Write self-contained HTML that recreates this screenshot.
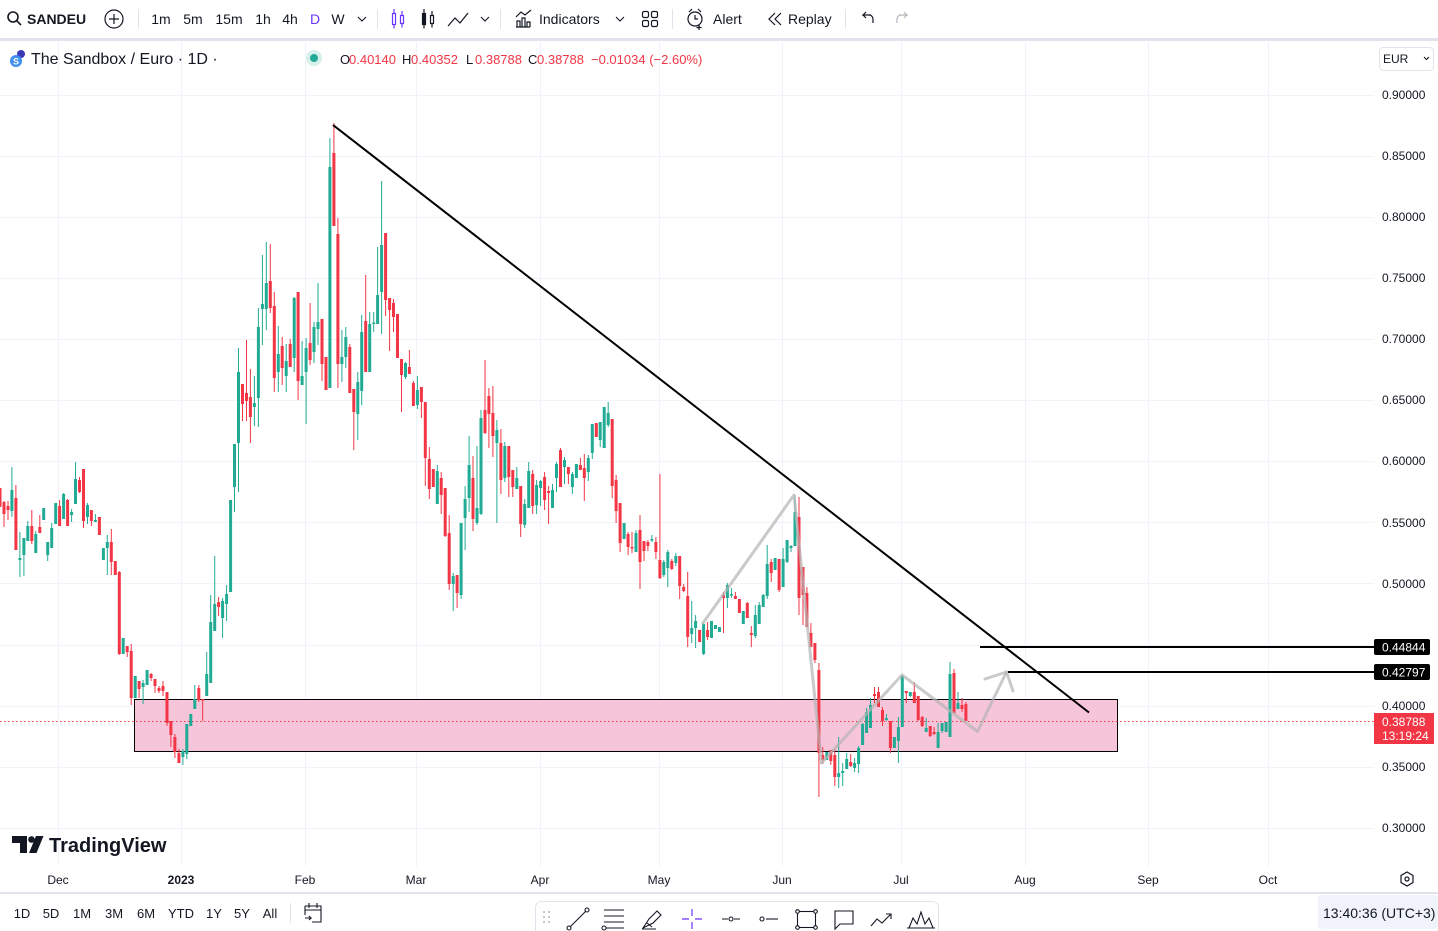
<!DOCTYPE html>
<html><head><meta charset="utf-8"><style>
html,body{margin:0;padding:0;background:#fff;width:1438px;height:931px;overflow:hidden}
svg{display:block;font-family:"Liberation Sans",sans-serif}
</style></head><body>
<svg width="1438" height="931" viewBox="0 0 1438 931" xmlns="http://www.w3.org/2000/svg">
<rect width="1438" height="931" fill="#fff"/>
<!-- grid -->
<g stroke="#f0f3fa" stroke-width="1">
<path d="M0 95.5H1374M0 156.5H1374M0 217.5H1374M0 278.5H1374M0 339.5H1374M0 400.5H1374M0 461.5H1374M0 522.5H1374M0 583.5H1374M0 645.5H1374M0 706.5H1374M0 767.5H1374M0 828.5H1374"/>
<path d="M58.5 42V866M181.5 42V866M305.5 42V866M416.5 42V866M540.5 42V866M659.5 42V866M782.5 42V866M901.5 42V866M1025.5 42V866M1148.5 42V866M1268.5 42V866"/>
</g>
<!-- pink zone -->
<rect x="134.5" y="699.5" width="983" height="52" fill="#f7c5da" stroke="#000" stroke-width="1"/>
<!-- current price dotted -->
<path d="M0 721.5H1374" stroke="#f23645" stroke-width="1" stroke-dasharray="1.5 2.5"/>
<!-- candles green -->
<path fill="none" stroke="#22ab94" stroke-width="1" d="M11.9 467V517M19.9 532V577M23.9 538V576M27.8 521V541M35.8 531V553M43.7 508V520M47.7 542V561M51.7 523V548M55.7 503V524M63.6 493V519M71.6 509V522M75.5 462V504M87.5 503V524M95.4 514V522M103.4 548V560M107.3 535V575M123.2 638V654M135.2 676V698M143.1 680V704M147.1 670V685M182.9 749V765M186.8 724V759M190.8 714V726M194.8 685V709M206.7 652V696M210.7 595V683M214.7 556V631M222.6 598V638M226.6 585V621M230.6 500V592M234.5 444V512M238.5 348V492M254.4 376V426M258.4 308V427M262.4 255V345M266.3 242V330M278.3 326V392M286.2 344V392M294.2 297V372M302.1 341V385M306.1 338V424M314 322V363M318 283V345M329.9 138V388M341.9 330V382M345.8 327V368M357.8 372V440M361.7 315V405M369.7 312V372M373.7 312V332M377.6 247V324M381.6 181V334M405.5 362V379M417.4 376V409M437.3 465V504M453.2 573V611M461.1 523V599M465.1 486V550M469.1 436V512M477 446V525M481 410V515M496.9 420V523M504.8 442V482M516.8 467V489M524.7 499V528M528.7 462V508M536.6 480V514M540.6 480V506M552.5 484V508M556.5 462V492M564.5 457V484M572.4 472V494M576.4 464V478M588.3 455V481M592.3 424V459M600.2 422V447M604.2 407V448M608.2 402V427M624.1 523V539M636 530V552M651.9 535V542M663.8 560V577M667.8 550V587M675.8 553V566M691.7 601V643M695.6 615V648M703.6 623V655M711.5 621V638M715.5 625V629M719.5 627V632M727.4 583V608M731.4 588V598M743.3 611V624M755.3 605V638M759.2 602V624M763.2 594V607M767.2 545V599M775.1 558V570M783.1 548V587M787.1 540V563M791 545V552M795 495V546M826.8 752V760M838.7 737V788M842.7 763V786M846.7 753V769M854.6 758V772M858.6 746V773M862.6 723V745M866.6 708V733M870.5 698V728M886.4 714V721M894.4 737V748M898.4 717V763M902.3 675V727M910.3 692V697M926.2 718V732M938.1 723V748M942.1 723V733M946.1 722V732M950 662V737M958 692V709"/>
<path fill="#22ab94" d="M10.4 490h3V511h-3zM18.4 558h3V560h-3zM22.4 538h3V555h-3zM26.3 526h3V541h-3zM34.3 534h3V553h-3zM42.2 508h3V520h-3zM46.2 542h3V555h-3zM50.2 528h3V548h-3zM54.2 503h3V524h-3zM62.1 494h3V519h-3zM70.1 512h3V515h-3zM74 479h3V504h-3zM86 505h3V517h-3zM93.9 520h3V522h-3zM101.9 548h3V560h-3zM105.8 542h3V548h-3zM121.7 638h3V654h-3zM133.7 676h3V698h-3zM141.6 683h3V687h-3zM145.6 670h3V685h-3zM181.4 751h3V757h-3zM185.3 724h3V754h-3zM189.3 714h3V726h-3zM193.3 699h3V709h-3zM205.2 674h3V696h-3zM209.2 622h3V683h-3zM213.2 604h3V631h-3zM221.1 601h3V618h-3zM225.1 594h3V604h-3zM229.1 500h3V592h-3zM233 444h3V487h-3zM237 372h3V443h-3zM252.9 403h3V407h-3zM256.9 327h3V398h-3zM260.9 304h3V309h-3zM264.8 283h3V309h-3zM276.8 354h3V372h-3zM284.7 361h3V376h-3zM292.7 298h3V358h-3zM300.6 376h3V385h-3zM304.6 348h3V372h-3zM312.5 327h3V352h-3zM316.5 322h3V329h-3zM328.4 167h3V388h-3zM340.4 357h3V364h-3zM344.3 337h3V357h-3zM356.3 382h3V414h-3zM360.2 332h3V391h-3zM368.2 324h3V372h-3zM372.2 322.5h3V324h-3zM376.1 295h3V324h-3zM380.1 245h3V292h-3zM404 363h3V377h-3zM415.9 390h3V405h-3zM435.8 471h3V504h-3zM451.7 576h3V584h-3zM459.6 523h3V595h-3zM463.6 499h3V518h-3zM467.6 465h3V498h-3zM475.5 508h3V523h-3zM479.5 418h3V514h-3zM495.4 430h3V443h-3zM503.3 446h3V478h-3zM515.3 478h3V489h-3zM523.2 504h3V525h-3zM527.2 471h3V508h-3zM535.1 485h3V505h-3zM539.1 481h3V488h-3zM551 490h3V508h-3zM555 464h3V478h-3zM563 460h3V467h-3zM570.9 474h3V487h-3zM574.9 464h3V478h-3zM586.8 458h3V472h-3zM590.8 424h3V453h-3zM598.7 422h3V440h-3zM602.7 407h3V448h-3zM606.7 413h3V425h-3zM622.6 523h3V539h-3zM634.5 533h3V552h-3zM650.4 539h3V540.5h-3zM662.3 562h3V575h-3zM666.3 552h3V568h-3zM674.3 556h3V563h-3zM690.2 628h3V634h-3zM694.1 621h3V628h-3zM702.1 624h3V654h-3zM710 621h3V638h-3zM714 625h3V629h-3zM718 627h3V632h-3zM725.9 585h3V598h-3zM729.9 594h3V595.5h-3zM741.8 611h3V624h-3zM753.8 615h3V636h-3zM757.7 605h3V624h-3zM761.7 595h3V607h-3zM765.7 564h3V596h-3zM773.6 558h3V570h-3zM781.6 559h3V587h-3zM785.6 540h3V562h-3zM789.5 546h3V548h-3zM793.5 512h3V546h-3zM825.3 752h3V760h-3zM837.2 773h3V777h-3zM841.2 771h3V773h-3zM845.2 759h3V769h-3zM853.1 763h3V768h-3zM857.1 748h3V764h-3zM861.1 724h3V745h-3zM865.1 712h3V733h-3zM869 705h3V728h-3zM884.9 718h3V720h-3zM892.9 737h3V748h-3zM896.9 727h3V741h-3zM900.8 676h3V727h-3zM908.8 692h3V696h-3zM924.7 728h3V732h-3zM936.6 732h3V748h-3zM940.6 723h3V731h-3zM944.6 722h3V732h-3zM948.5 674h3V737h-3zM956.5 703h3V709h-3z"/>
<!-- candles red -->
<path fill="none" stroke="#f23645" stroke-width="1" d="M0 488V507M4 501V527M8 501V520M15.9 485V550M31.8 510V544M39.8 515V533M59.6 500V526M67.6 499V526M79.5 477V493M83.5 469V528M91.4 510V526M99.4 517V535M111.3 529V575M115.3 561V575M119.3 571V655M127.2 646V657M131.2 644V705M139.1 681V698M151.1 673V681M155 679V693M159 686V693M163 681V696M167 692V726M170.9 721V747M174.9 734V758M178.9 749V763M198.8 685V702M202.7 699V721M218.6 597V616M242.5 384V421M246.5 340V421M250.4 369V443M270.3 244V313M274.3 292V392M282.2 337V385M290.2 339V367M298.1 292V400M310.1 303V365M322 319V381M326 357V390M333.9 123V226M337.9 218V388M349.8 344V393M353.8 389V450M365.7 275V372M385.6 233V316M389.6 298V351M393.5 299V332M397.5 314V358M401.5 359V412M409.4 350V374M413.4 381V406M421.4 387V418M425.3 402V486M429.3 447V499M433.3 469V487M441.2 472V514M445.2 488V537M449.2 515V590M457.1 575V608M473 456V531M485 360V434M488.9 388V448M492.9 386V457M500.9 429V494M508.8 446V497M512.8 470V497M520.7 486V537M532.7 470V514M544.6 472V510M548.6 486V524M560.5 448V487M568.4 467V484M580.4 458V470M584.3 454V501M596.3 423V437M612.2 419V498M616.1 475V523M620.1 503V552M628.1 532V555M632 532V553M640 515V589M644 541V561M647.9 540V551M655.9 537V559M659.9 474V579M671.8 559V570M679.7 556V599M683.7 584V592M687.7 572V647M699.6 630V642M707.6 622V640M723.5 592V633M735.4 592V599M739.4 599V613M747.3 602V618M751.3 626V647M771.2 559V582M779.1 559V592M799 497V615M803 567V625M806.9 587V627M810.9 623V647M814.9 643V663M818.9 663V797M822.8 747V764M830.8 750V765M834.8 749V786M850.7 754V767M874.5 687V703M878.5 687V707M882.5 707V726M890.4 721V753M906.3 691V703M914.3 682V703M918.2 696V721M922.2 716V727M930.2 726V737M934.1 727V735M954 669V713M962 698V712M965.9 702V721"/>
<path fill="#f23645" d="M-1.5 488h3V507h-3zM2.5 502h3V514h-3zM6.5 506h3V510h-3zM14.4 498h3V550h-3zM30.3 526h3V541h-3zM38.3 527h3V533h-3zM58.1 506h3V526h-3zM66.1 500h3V526h-3zM78 480h3V492h-3zM82 469h3V521h-3zM89.9 510h3V521h-3zM97.9 517h3V535h-3zM109.8 542h3V562h-3zM113.8 561h3V575h-3zM117.8 572h3V654h-3zM125.7 646h3V652h-3zM129.7 651h3V698h-3zM137.6 681h3V689h-3zM149.6 674h3V678h-3zM153.5 679h3V686h-3zM157.5 688h3V691h-3zM161.5 686h3V691h-3zM165.5 692h3V723h-3zM169.4 721h3V735h-3zM173.4 737h3V752h-3zM177.4 753h3V763h-3zM197.3 688h3V700h-3zM201.2 699h3V700.5h-3zM217.1 602h3V607h-3zM241 384h3V404h-3zM245 393h3V401h-3zM248.9 397h3V417h-3zM268.8 281h3V308h-3zM272.8 306h3V378h-3zM280.7 346h3V368h-3zM288.7 344h3V367h-3zM296.6 292h3V381h-3zM308.6 343h3V360h-3zM320.5 319h3V364h-3zM324.5 357h3V390h-3zM332.4 153h3V226h-3zM336.4 234h3V364h-3zM348.3 347h3V393h-3zM352.3 389h3V412h-3zM364.2 321h3V372h-3zM384.1 233h3V300h-3zM388.1 298h3V310h-3zM392 303h3V317h-3zM396 314h3V358h-3zM400 359h3V375h-3zM407.9 367h3V374h-3zM411.9 383h3V406h-3zM419.9 387h3V402h-3zM423.8 402h3V458h-3zM427.8 459h3V489h-3zM431.8 469h3V487h-3zM439.7 478h3V495h-3zM443.7 488h3V536h-3zM447.7 533h3V584h-3zM455.6 575h3V593h-3zM471.5 478h3V519h-3zM483.5 410h3V433h-3zM487.4 396h3V414h-3zM491.4 413h3V436h-3zM499.4 443h3V480h-3zM507.3 446h3V477h-3zM511.3 470h3V487h-3zM519.2 486h3V524h-3zM531.2 474h3V506h-3zM543.1 477h3V500h-3zM547.1 491h3V493h-3zM559 450h3V487h-3zM566.9 467h3V474h-3zM578.9 465h3V470h-3zM582.8 468h3V478h-3zM594.8 423h3V437h-3zM610.7 419h3V486h-3zM614.6 480h3V511h-3zM618.6 503h3V543h-3zM626.6 534h3V547h-3zM630.5 547h3V548.5h-3zM638.5 530h3V562h-3zM642.5 541h3V551h-3zM646.4 542h3V546h-3zM654.4 542h3V552h-3zM658.4 560h3V578h-3zM670.3 561h3V569h-3zM678.2 556h3V586h-3zM682.2 587h3V591h-3zM686.2 596h3V637h-3zM698.1 630h3V642h-3zM706.1 630h3V637h-3zM722 595h3V598h-3zM733.9 596h3V599h-3zM737.9 599h3V613h-3zM745.8 603h3V618h-3zM749.8 633h3V635h-3zM769.7 562h3V573h-3zM777.6 559h3V590h-3zM797.5 517h3V598h-3zM801.5 567h3V595h-3zM805.4 593h3V627h-3zM809.4 633h3V647h-3zM813.4 643h3V660h-3zM817.4 670h3V753h-3zM821.3 755h3V760h-3zM829.3 750h3V761h-3zM833.3 755h3V777h-3zM849.2 762h3V766h-3zM873 694h3V696h-3zM877 692h3V707h-3zM881 710h3V721h-3zM888.9 721h3V748h-3zM904.8 691h3V693h-3zM912.8 692h3V703h-3zM916.7 696h3V720h-3zM920.7 717h3V726h-3zM928.7 726h3V736h-3zM932.6 732h3V734h-3zM952.5 673h3V713h-3zM960.5 705h3V709h-3zM964.4 704h3V721h-3z"/>
<!-- gray zigzag -->
<g fill="none" stroke="#b4b4b4" stroke-opacity="0.7" stroke-width="3" stroke-linejoin="round" stroke-linecap="round">
<polyline points="703,623 794,495 821.5,763 902,675 977.5,731.5 1006.5,672"/>
<polyline points="985,679 1006.5,672 1013,691"/>
</g>
<!-- trend line and levels -->
<path d="M333 125L1089 712.5" stroke="#000" stroke-width="2"/>
<path d="M980 647H1374M1008 672H1374" stroke="#000" stroke-width="2"/>
<!-- price axis -->
<g font-size="12" fill="#131722">
<text x="1382" y="99">0.90000</text>
<text x="1382" y="160">0.85000</text>
<text x="1382" y="221">0.80000</text>
<text x="1382" y="282">0.75000</text>
<text x="1382" y="343">0.70000</text>
<text x="1382" y="404">0.65000</text>
<text x="1382" y="465">0.60000</text>
<text x="1382" y="527">0.55000</text>
<text x="1382" y="588">0.50000</text>
<text x="1382" y="710">0.40000</text>
<text x="1382" y="771">0.35000</text>
<text x="1382" y="832">0.30000</text>
</g>
<rect x="1374" y="639" width="56" height="16" rx="2" fill="#000"/>
<text x="1382" y="651.5" font-size="12" fill="#fff">0.44844</text>
<rect x="1374" y="664" width="56" height="16" rx="2" fill="#000"/>
<text x="1382" y="676.5" font-size="12" fill="#fff">0.42797</text>
<rect x="1374" y="713" width="60" height="31" fill="#f23645"/>
<text x="1382" y="726" font-size="12" fill="#fff">0.38788</text>
<text x="1382" y="740" font-size="12" fill="#fff">13:19:24</text>
<!-- EUR box -->
<rect x="1379.5" y="47.5" width="54" height="23" rx="4" fill="#fff" stroke="#e0e3eb"/>
<text x="1383" y="63" font-size="12" fill="#131722">EUR</text>
<path d="M1424 57l2.5 2.5 2.5-2.5" fill="none" stroke="#131722" stroke-width="1"/>
<!-- legend -->
<circle cx="21" cy="54" r="4" fill="#3a3ab8"/>
<circle cx="16" cy="61" r="6" fill="#3f8ef0"/>
<text x="16" y="64.5" font-size="9" font-weight="bold" fill="#fff" text-anchor="middle">S</text>
<text x="31" y="64" font-size="16" fill="#131722">The Sandbox / Euro · 1D ·</text>
<circle cx="314" cy="58" r="8" fill="#22ab94" fill-opacity="0.18"/>
<circle cx="314" cy="58" r="4" fill="#22ab94"/>
<g font-size="13">
<text x="340" y="64" fill="#131722">O</text><text x="349" y="64" fill="#f23645">0.40140</text>
<text x="402" y="64" fill="#131722">H</text><text x="411" y="64" fill="#f23645">0.40352</text>
<text x="466" y="64" fill="#131722">L</text><text x="475" y="64" fill="#f23645">0.38788</text>
<text x="528" y="64" fill="#131722">C</text><text x="537" y="64" fill="#f23645">0.38788</text>
<text x="591" y="64" fill="#f23645">−0.01034 (−2.60%)</text>
</g>
<!-- TradingView logo -->
<g fill="#131722">
<path d="M12 836h15v17h-7v-10h-8z"/>
<circle cx="31.5" cy="839.5" r="3.3"/>
<path d="M36 836h7.5l-7 17h-7.5z"/>
<text x="49" y="852" font-size="20" font-weight="bold">TradingView</text>
</g>
<!-- time axis -->
<g font-size="12" fill="#131722" text-anchor="middle">
<text x="58" y="884">Dec</text>
<text x="181" y="884" font-weight="bold">2023</text>
<text x="305" y="884">Feb</text>
<text x="416" y="884">Mar</text>
<text x="540" y="884">Apr</text>
<text x="659" y="884">May</text>
<text x="782" y="884">Jun</text>
<text x="901" y="884">Jul</text>
<text x="1025" y="884">Aug</text>
<text x="1148" y="884">Sep</text>
<text x="1268" y="884">Oct</text>
</g>
<path d="M1407 872l6 3.5v7l-6 3.5-6-3.5v-7z" fill="none" stroke="#131722" stroke-width="1.2"/>
<circle cx="1407" cy="879" r="2" fill="none" stroke="#131722" stroke-width="1.2"/>
<!-- top toolbar -->
<rect x="0" y="0" width="1438" height="38" fill="#fff"/>
<rect x="0" y="38" width="1438" height="3" fill="#e0e3eb"/>
<g fill="none" stroke="#131722" stroke-width="1.6">
<circle cx="13" cy="17" r="5"/><path d="M16.8 20.8L21 25"/>
</g>
<clipPath id="sc"><rect x="0" y="0" width="86" height="38"/></clipPath>
<text x="27" y="24" font-size="14" font-weight="bold" fill="#131722" clip-path="url(#sc)">SANDEUR</text>
<g fill="none" stroke="#131722" stroke-width="1.2">
<circle cx="114" cy="19" r="9"/><path d="M114 14v10M109 19h10"/>
</g>
<g stroke="#e0e3eb" stroke-width="1"><path d="M138.5 9V29M377.5 9V29M500.5 9V29M672.5 9V29M845.5 9V29"/></g>
<g font-size="14" fill="#131722" text-anchor="middle">
<text x="161" y="24">1m</text><text x="193" y="24">5m</text><text x="229" y="24">15m</text>
<text x="263" y="24">1h</text><text x="290" y="24">4h</text>
<text x="315" y="24" fill="#6a35ff">D</text><text x="338" y="24">W</text>
</g>
<g fill="none" stroke="#131722" stroke-width="1.1">
<path d="M358 17l4 4 4-4M481 17l4 4 4-4M616 17l4 4 4-4"/>
</g>
<g fill="none" stroke="#6a35ff" stroke-width="1.2">
<rect x="392.5" y="13.5" width="3" height="11"/><path d="M394 9v4.5M394 24.5v4"/>
<rect x="400.5" y="15.5" width="3" height="8"/><path d="M402 11v4.5M402 23.5v4"/>
</g>
<g fill="none" stroke="#131722" stroke-width="1.2">
<rect x="422.5" y="13.5" width="3" height="11" fill="#131722"/><path d="M424 9v4.5M424 24.5v4"/>
<rect x="430.5" y="15.5" width="3" height="8"/><path d="M432 11v4.5M432 23.5v4"/>
<path d="M448 26l7-8 5 5 8-10"/>
<path d="M516 27h14M517 27v-6h3v6M522 27v-9h3v9M527 27v-5h3v5M516 17l5-5 4 3 6-5"/>
<rect x="642.5" y="11.5" width="6" height="6" rx="1.5"/><rect x="651.5" y="11.5" width="6" height="6" rx="1.5"/>
<rect x="642.5" y="20.5" width="6" height="6" rx="1.5"/><rect x="651.5" y="20.5" width="6" height="6" rx="1.5"/>
<circle cx="695" cy="19" r="7"/><path d="M695 15v4h3M689 12l3-3M701 12l-3-3M699 25v5M696.5 27.5h5"/>
<path d="M775 13l-6 6 6 6M781 13l-6 6 6 6"/>
<path d="M871 15h-8l3-3M863 15l3 3M863 15h6a4 4 0 0 1 4 4v4"/>
</g>
<path d="M899 15h8l-3-3M907 15l-3 3M907 15h-6a4 4 0 0 0-4 4v4" fill="none" stroke="#b2b5be" stroke-width="1.2"/>
<g font-size="14" fill="#131722">
<text x="539" y="24">Indicators</text>
<text x="713" y="24">Alert</text>
<text x="788" y="24">Replay</text>
</g>
<!-- bottom toolbar -->
<rect x="0" y="892" width="1438" height="2" fill="#e0e3eb"/>
<g font-size="13" fill="#131722" text-anchor="middle">
<text x="22" y="918">1D</text><text x="51" y="918">5D</text><text x="82" y="918">1M</text>
<text x="114" y="918">3M</text><text x="146" y="918">6M</text><text x="181" y="918">YTD</text>
<text x="214" y="918">1Y</text><text x="242" y="918">5Y</text><text x="270" y="918">All</text>
</g>
<path d="M290.5 903V923" stroke="#e0e3eb"/>
<g fill="none" stroke="#131722" stroke-width="1.1">
<path d="M305 906h16v16h-9M305 906v9M305 910h16M309 903v5M317 903v5M305 918h6l-2-2M311 918l-2 2"/>
</g>
<rect x="535.5" y="901.5" width="403" height="40" rx="6" fill="#fff" stroke="#e0e3eb"/>
<g fill="#b2b5be"><circle cx="544" cy="912" r="1"/><circle cx="549" cy="912" r="1"/><circle cx="544" cy="917" r="1"/><circle cx="549" cy="917" r="1"/><circle cx="544" cy="922" r="1"/><circle cx="549" cy="922" r="1"/></g>
<g fill="none" stroke="#131722" stroke-width="1.1">
<path d="M570 927l16-16"/><circle cx="569" cy="928" r="2"/><circle cx="587" cy="910" r="2"/>
<path d="M604 910h20M604 916h20M604 922h20M606 928h18"/><circle cx="604" cy="928" r="2"/>
<path d="M643 928l6-9 8-8 4 4-8 8-10 5zM647 923l5 4M642 929h14"/>
<path d="M722 919h6M734 919h6"/><circle cx="731" cy="919" r="2"/>
<path d="M766 919h12"/><circle cx="762" cy="919" r="2"/>
<rect x="797.5" y="911.5" width="18" height="16"/><circle cx="797.5" cy="911.5" r="1.8" fill="#fff"/><circle cx="815.5" cy="911.5" r="1.8" fill="#fff"/><circle cx="797.5" cy="927.5" r="1.8" fill="#fff"/><circle cx="815.5" cy="927.5" r="1.8" fill="#fff"/>
<path d="M835 911h18v13h-13l-5 5z"/>
<path d="M871 926l6-7 5 4 9-9M886 914h5v5"/>
<path d="M909 928l4-10 4 6 4-12 4 12 4-6 4 10M907 928h28"/>
</g>
<path d="M692 909v7M692 922v7M682 919h7M695 919h7" stroke="#6a35ff" stroke-width="1.2"/>
<rect x="1318" y="895" width="120" height="34" rx="4" fill="#f0f3fa"/>
<text x="1323" y="918" font-size="14" fill="#131722">13:40:36 (UTC+3)</text>
</svg>
</body></html>
